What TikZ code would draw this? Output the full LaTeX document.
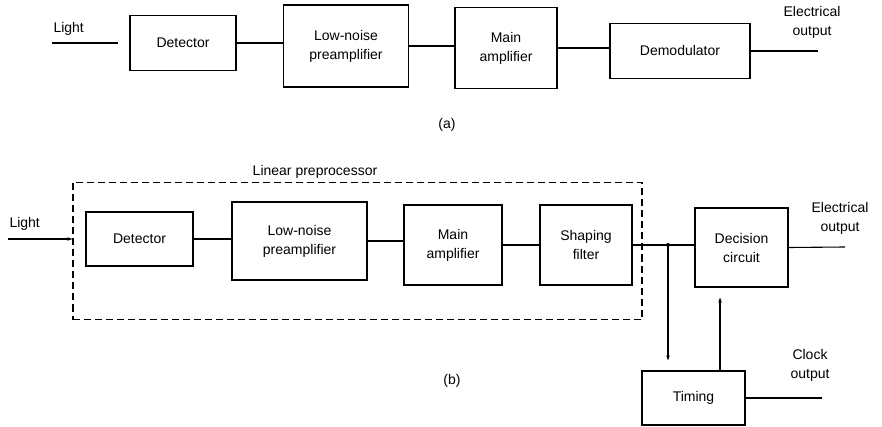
\documentclass[tikz,border=0pt]{standalone}
\usepackage{fontspec}
\setmainfont{Liberation Sans}
\usetikzlibrary{arrows.meta}
\begin{document}
\begin{tikzpicture}[x=1pt,y=-1pt,
  blk/.style={draw, line width=1.1pt, inner sep=0pt},
  wire/.style={line width=1.1pt},
  lbl/.style={font=\fontsize{14}{19}\selectfont, align=center},
  tip/.style={-{Stealth[length=5pt,width=3.5pt]}},
]
\useasboundingbox (0,0) rectangle (882,427);

% ---- (a) receiver chain ----
\node[blk, minimum width=106, minimum height=55] (ad) at (183,43) {};
\node[lbl] at (ad) {Detector};
\node[blk, minimum width=125, minimum height=82] (ap) at (346,46) {};
\node[lbl] at (ap) {Low-noise\\preamplifier};
\node[blk, minimum width=102, minimum height=81] (am) at (506,48) {};
\node[lbl] at (am) {Main\\amplifier};
\node[blk, minimum width=140, minimum height=55] (adm) at (680,51) {};
\node[lbl] at (adm) {Demodulator};

\node[lbl, anchor=south west] (alight) at (50,39) {Light};
\coordinate (ain) at (52,43);
\coordinate (aout) at (818,51);
\node[lbl] (aelec) at (812,22) {Electrical\\output};

\draw[wire] (ain) -- ++(66,0);
\draw[wire] (ad.east) -- (ad.east -| ap.west);
\draw[wire] (ap.east) -- (ap.east -| am.west);
\draw[wire] (am.east) -- (am.east -| adm.west);
\draw[wire] (adm.east) -- (aout);

\node[lbl] (acap) at (447,125) {(a)};

% ---- (b) receiver with decision and timing ----
\node[lbl] (linpre) at (315,172) {Linear preprocessor};
\node[draw, line width=1.1pt, dash pattern=on 7pt off 4pt,
      minimum width=569, minimum height=137, inner sep=0pt] (lp) at (357.5,251) {};

\node[blk, minimum width=107, minimum height=54] (bd) at (139.5,239) {};
\node[lbl] at (bd) {Detector};
\node[blk, minimum width=135, minimum height=78] (bp) at (299.5,241) {};
\node[lbl] at (bp) {Low-noise\\preamplifier};
\node[blk, minimum width=98, minimum height=80] (bm) at (453,245) {};
\node[lbl] at (bm) {Main\\amplifier};
\node[blk, minimum width=92, minimum height=80] (bs) at (586,245) {};
\node[lbl] at (bs) {Shaping\\filter};
\node[blk, minimum width=93, minimum height=79] (bdc) at (741.5,247.5) {};
\node[lbl] at (bdc) {Decision\\circuit};
\node[blk, minimum width=103, minimum height=54] (bt) at (693.5,398) {};
\node[lbl] at (bt) {Timing};

\node[lbl, anchor=south west] (blight) at (6,234) {Light};
\coordinate (bin) at (8,239);
\draw[wire, tip] (bin) -- (bin -| lp.west);

\node[lbl] (belec) at (840,218) {Electrical\\output};
\coordinate (bout) at (845,247);
\node[lbl] (bclock) at (810,365) {Clock\\output};
\coordinate (cout) at (822,398);

\draw[wire] (bd.east) -- (bd.east -| bp.west);
\draw[wire] (bp.east) -- (bp.east -| bm.west);
\draw[wire] (bm.east) -- (bm.east -| bs.west);
\coordinate (jn) at (668,245);
\draw[wire] (bs.east) -- (jn) -- (jn -| bdc.west);
\fill (jn) circle (2pt);
\draw[wire] (bdc.east) -- (bout);

\draw[wire, tip, shorten >=10pt] (jn) -- (jn |- bt.north);
\coordinate (tu) at (720,0);
\draw[wire, tip, shorten >=10pt] (tu |- bt.north) -- (tu |- bdc.south);
\draw[wire] (bt.east) -- (cout);

\node[lbl] (bcap) at (452,381) {(b)};
\end{tikzpicture}
\end{document}
